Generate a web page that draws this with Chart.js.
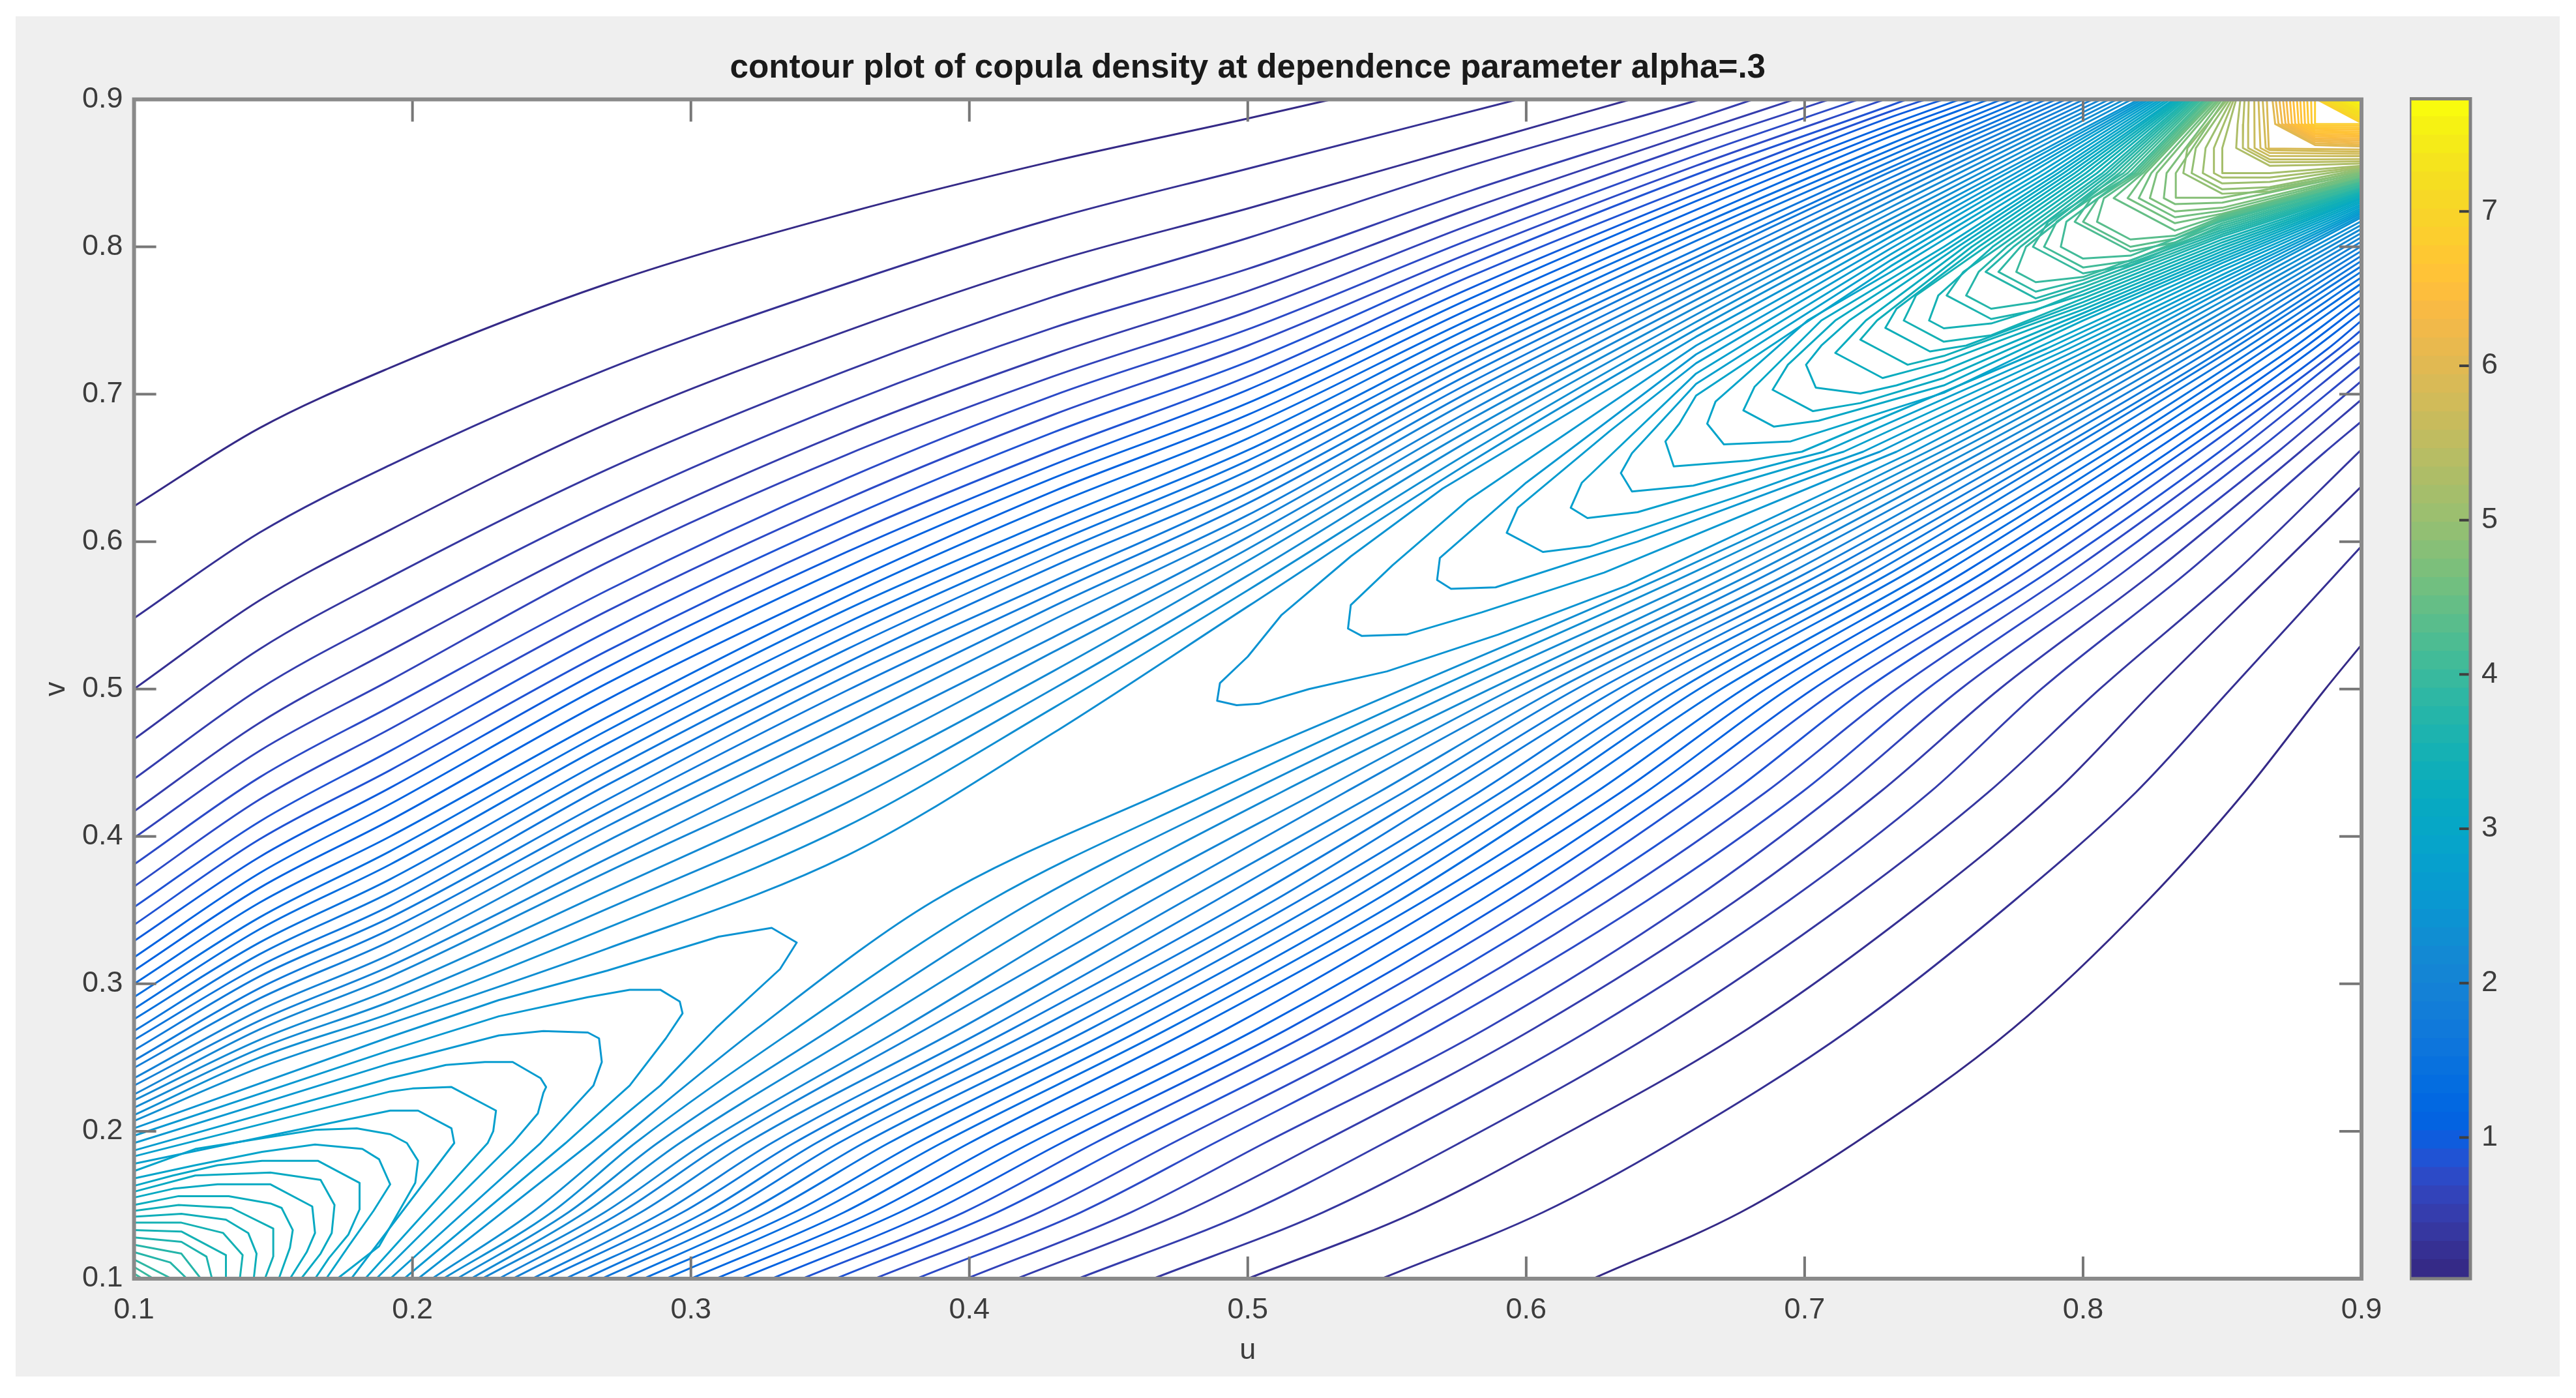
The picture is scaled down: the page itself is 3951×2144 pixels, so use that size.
<!DOCTYPE html>
<html>
<head>
<meta charset="utf-8">
<title>copula density contour</title>
<script src="https://cdn.jsdelivr.net/npm/chart.js@4/dist/chart.umd.min.js"></script>
<style>
html, body { margin: 0; background: #fff; overflow: hidden; }
#panel { position: absolute; left: 24px; top: 25px; width: 3902px; height: 2086px; background: #efefef; }
canvas { position: absolute; top: 0; }
#main { left: 0; }
#cbar { left: 3696px; }
</style>
</head>
<body>
<div id="panel"></div>
<canvas id="main" width="3951" height="2144"></canvas>
<canvas id="cbar" width="255" height="2144"></canvas>
<script>
const titleText = "contour plot of copula density at dependence parameter alpha=.3";
const uTicks = [0.1, 0.2, 0.3, 0.4, 0.5, 0.6, 0.7, 0.8, 0.9];
const vTicks = [0.1, 0.2, 0.3, 0.4, 0.5, 0.6, 0.7, 0.8, 0.9];
const barTicks = [1, 2, 3, 4, 5, 6, 7];
const barMin = 0.085;
const barMax = 7.73;

const parula = ["#352a87","#363093","#3637a0","#353dad","#3243ba","#2c4ac7","#2053d4","#0f5cdd","#0363e1","#0268e1","#046de0","#0871de","#0d75dc","#1079da","#127dd8","#1481d6","#1485d4","#1389d3","#108ed2","#0c93d2","#0998d1","#079ccf","#06a0cd","#06a4ca","#06a7c6","#07a9c2","#0aacbe","#0faeb9","#15b1b4","#1db3af","#25b5a9","#2eb7a4","#38b99e","#42bb98","#4dbc92","#59bd8c","#65be86","#71bf80","#7cbf7b","#87bf77","#92bf73","#9cbf6f","#a5be6b","#aebd67","#b7bd64","#c0bc60","#c8bb5c","#d1bb59","#d9ba56","#e1b952","#e9b94e","#f1b94a","#f8ba44","#fdbe3d","#ffc337","#fec832","#fcce2e","#f9d32a","#f7d826","#f5de21","#f5e41d","#f5eb18","#f6f213","#f9fb0e"];

// contour levels, outermost first
const levelsOuter = [0.17,0.24,0.32,0.39,0.47,0.54,0.62,0.69,0.77,0.84,0.92,0.99,1.07,1.14,1.22,1.29,1.37,1.44,1.52,1.59,1.67,1.74,1.82,1.89,1.97,2.04,2.12,2.19,2.27,2.34];
const levelsLow = [2.42,2.49,2.57,2.64,2.72,2.79,2.87,2.94,3.02,3.09,3.17,3.24,3.32,3.39,3.47,3.54,3.62,3.69,3.77,3.84,3.92,3.99];
const levelsHigh = [2.42,2.49,2.57,2.64,2.72,2.79,2.87,2.94,3.02,3.09,3.17,3.24,3.32,3.39,3.47,3.54,3.62,3.69,3.77,3.84,3.92,3.99,4.07,4.14,4.22,4.29,4.37,4.44,4.52,4.59,4.67,4.74,4.82,4.89,4.97,5.04,5.12,5.19,5.3,5.4,5.5,5.6,5.7,5.8,5.9,6.05,6.2,6.35,6.5,6.6,6.7,6.8,6.95,7.05,7.15,7.25,7.35,7.42,7.49,7.56,7.63,7.7];
const levelsTop = [6.12,6.27,6.42,6.55,6.65,6.75,7,7.1,7.2,7.3,7.38,7.45,7.52,7.6];

// all lines below are flat u,v pairs in thousandths
const upperLeft = [
[100,624,145,677,192,718,270,775,356,823,430,858,500,887,530,900],
[100,548,145,606,192,652,270,717,356,775,430,819,500,853,597,900],
[100,500,145,560,192,608,270,680,356,743,430,790,500,826,580,869,637.5,900],
[100,466,145,527,192,576,270,649,356,716,430,766,500,806,580,855,662.5,900],
[100,439,145,500,192,549,270,624,356,694,430,745,500,785,580,838,661,887,681.6,900],
[100,417,145,477,192,526,270,603,356,675,430,727,500,770,580,826,661,878,696.4,900],
[100,399,145,458,192,506,270,586,356,659,430,712,500,756,580,815,661,870,709,900],
[100,381,145,440,192,488,270,567,356,643,430,699,500,744,580,805,661,862,719.5,900],
[100,366,145,425,192,473,270,553,356,629,430,686,500,733,580,796,661,855,728.8,900],
[100,352,145,410,192,458,270,539,356,616,430,674,500,722,580,788,661,849,731,896,736.8,900],
[100,340,145,398,192,445,270,526,356,604,430,662,500,712,580,780,661,842,731,892,743.6,900],
[100,329,145,386,192,433,270,515,356,593,430,652,500,703,580,772,661,836,731,888,750,900],
[100,318,145,375,192,422,270,504,356,583,430,643,500,694,580,765,661,831,731,883,755.8,900],
[100,309,145,365,192,411,270,493,356,572,430,634,500,686,580,758,661,825,731,879,761.2,900],
[100,300,145,355,192,400,270,481,356,563,430,625,500,678,580,751,661,819,731,875,766.2,900],
[100,291,145,345,192,390,270,472,356,554,430,615,500,670,580,745,661,814,731,870,770.8,900],
[100,283,145,337,192,381,270,463,356,545,430,607,500,662,580,738,661,809,731,866,775.2,900],
[100,276,145,328,192,371,270,453,356,536,430,599,500,655,580,732,661,804,731,862,779.3,900],
[100,268,145,320,192,362,270,444,356,527,430,591,500,648,580,726,661,798,731,858,783.2,900],
[100,262,145,312,192,353,270,435,356,518,430,583,500,640,580,720,661,793,731,854,786.9,900],
[100,255,145,305,192,345,270,425,356,509,430,573,500,633,580,714,661,789,731,851,790.5,900],
[100,248,145,297,192,337,270,416,356,499,430,565,500,626,580,708,661,784,731,847,793.9,900],
[100,243,145,290,192,329,270,407,356,488,430,556,500,618,580,702,661,779,731,843,797.2,900],
[100,236,145,282,192,320,270,397,356,477,430,547,500,611,580,696,661,774,731,839,800.4,900],
[100,231,145,275,192,312,270,385,356,465,430,535,500,603,580,689,661,769,731,835,803.5,900],
[100,225,145,269,192,305,270,376,356,452,430,525,500,595,580,683,661,764,731,831,806.5,900],
[100,221,145,262,192,296,270,363,356,438,430,512,500,587,580,676,661,759,731,827,809.4,900],
[100,216,145,256,192,288,270,351,356,423,430,500,500,577,580,669,661,754,731,823,812.2,900],
[100,211,145,250,192,280,270,338,356,407,430,487,500,567,580,661,661,749,731,819,814.9,900],
[100,207,145,243,192,273,270,324,356,387,430,470,500,556,580,654,661,744,731,815,817.5,900]
];
const lowerRight = [
[624,100,677,145,718,192,775,270,823,356,858,430,887,500,900,530],
[548,100,606,145,652,192,717,270,775,356,819,430,853,500,900,597],
[500,100,560,145,608,192,680,270,743,356,790,430,826,500,869,580,900,637.5],
[466,100,527,145,576,192,649,270,716,356,766,430,806,500,855,580,900,662.5],
[439,100,500,145,549,192,624,270,694,356,745,430,785,500,838,580,887,661,900,681.6],
[417,100,477,145,526,192,603,270,675,356,727,430,770,500,826,580,878,661,900,696.4],
[399,100,458,145,506,192,586,270,659,356,712,430,756,500,815,580,870,661,900,709],
[381,100,440,145,488,192,567,270,643,356,699,430,744,500,805,580,862,661,900,719.5],
[366,100,425,145,473,192,553,270,629,356,686,430,733,500,796,580,855,661,900,728.8],
[352,100,410,145,458,192,539,270,616,356,674,430,722,500,788,580,849,661,896,731,900,736.8],
[340,100,398,145,445,192,526,270,604,356,662,430,712,500,780,580,842,661,892,731,900,743.6],
[329,100,386,145,433,192,515,270,593,356,652,430,703,500,772,580,836,661,888,731,900,750],
[318,100,375,145,422,192,504,270,583,356,643,430,694,500,765,580,831,661,883,731,900,755.8],
[309,100,365,145,411,192,493,270,572,356,634,430,686,500,758,580,825,661,879,731,900,761.2],
[300,100,355,145,400,192,481,270,563,356,625,430,678,500,751,580,819,661,875,731,900,766.2],
[291,100,345,145,390,192,472,270,554,356,615,430,670,500,745,580,814,661,870,731,900,770.8],
[283,100,337,145,381,192,463,270,545,356,607,430,662,500,738,580,809,661,866,731,900,775.2],
[276,100,328,145,371,192,453,270,536,356,599,430,655,500,732,580,804,661,862,731,900,779.3],
[268,100,320,145,362,192,444,270,527,356,591,430,648,500,726,580,798,661,858,731,900,783.2],
[262,100,312,145,353,192,435,270,518,356,583,430,640,500,720,580,793,661,854,731,900,786.9],
[255,100,305,145,345,192,425,270,509,356,573,430,633,500,714,580,789,661,851,731,900,790.5],
[248,100,297,145,337,192,416,270,499,356,565,430,626,500,708,580,784,661,847,731,900,793.9],
[243,100,290,145,329,192,407,270,488,356,556,430,618,500,702,580,779,661,843,731,900,797.2],
[236,100,282,145,320,192,397,270,477,356,547,430,611,500,696,580,774,661,839,731,900,800.4],
[231,100,275,145,312,192,385,270,465,356,535,430,603,500,689,580,769,661,835,731,900,803.5],
[225,100,269,145,305,192,376,270,452,356,525,430,595,500,683,580,764,661,831,731,900,806.5],
[221,100,262,145,296,192,363,270,438,356,512,430,587,500,676,580,759,661,827,731,900,809.4],
[216,100,256,145,288,192,351,270,423,356,500,430,577,500,669,580,754,661,823,731,900,812.2],
[211,100,250,145,280,192,338,270,407,356,487,430,567,500,661,580,749,661,819,731,900,814.9],
[207,100,243,145,273,192,324,270,387,356,470,430,556,500,654,580,744,661,815,731,900,817.5]
];
const lowPeak = [
[100,202,192,264,231,289,270,309,310,332,329,338,338,328,332,310,309,270,289,231,264,192,202,100],
[100,197,192,255,231,278,263,291,278,296,289,296,296,288,297,280,291,263,278,231,255,192,197,100],
[100,192,192,246,231,265,247,268,263,267,267,263,268,247,265,231,246,192,192,100],
[100,187,192,236,212,245,226,247,236,247,246,236,248,230,247,226,245,212,236,192,187,100],
[100,183,192,227,200,229,214,230,230,214,229,200,227,192,183,100],
[100,178,192,214,202,214,214,202,215,192,178,100],
[100,173,122,188,165,201,180,202,192,198,198,192,202,180,201,165,188,122,173,100],
[100,168,122,177,146,186,165,191,182,188,188,181,192,164,186,146,177,122,169,100],
[100,163,114,170,130,177,146,180,166,180,181,165,181,147,177,130,170,114,165,100],
[100,159,122,170,149,172,167,167,172,150,171,131,167,117,160,100],
[100,155,114,161,130,164,149,164,164,149,165,131,162,118,156,100],
[100,150,116,156,134,156,149,151,153,148,157,133,156,121,152,100],
[100,146,116,150,135,148,150,134,150,115,147,100],
[100,142,117,144,133,140,141,131,144,117,143,100],
[100,138,117,138,132,131,139,116,138,100],
[100,133,117,132,133,116,133,100],
[100,128,117,125,126,115,128,100],
[100,123,117,117,124,100],
[100,118,113,111,119,100],
[100,113,113.5,100],
[100,108,107,100],
[100,103.5,103,100]
];
const highPeak = [
[820,900,770,850,731,811,661,739,570,636,537,590,512,550,500,522,490,504,489,492,496,489,504,490,522,500,550,512,590,537,636,570,739,661,811,731,850,770,900,820],
[821.3,900,772.7,850,731,807,661,733,579,628,552,584,537,557,536,541,541,536,557,537,584,552,628,579,733,661,807,731,850,772.7,900,821.3],
[822.6,900,775.8,850,731,803,661,727,600,640,569,589,568,574,573,568,589,569,640,600,727,661,803,731,850,775.8,900,822.6],
[823.8,900,778.5,850,731,799,661,721,630,675,597,623,593,606,606,593,623,597,675,630,721,661,799,731,850,778.5,900,823.8],
[825.1,900,781,850,731,795,661,714,620,640,616,623,622,616,640,620,714,661,795,731,850,781,900,825.1],
[826.3,900,784,850,731,791,661,707,638,660,634,646.5,638,634,660,638,707,661,791,731,850,784,900,826.3],
[827.6,900,786.5,850,731,787,661,699,655,680,650,668,653,651,680,655,699,661,787,731,850,786.5,900,827.6],
[828.8,900,789,850,731,783,701,750,668,695,665,680,671,666,695,668,750,701,783,731,850,789,900,828.8],
[830.1,900,791,850,750,800,706,750,682,705,678,689,689,678,705,682,750,706,800,750,850,791,900,830.1],
[831.3,900,793,850,752.5,800,711,750,694,720,688.5,703,703,688.5,720,694,750,711,800,752.5,850,793,900,831.3],
[832.6,900,795,850,755,800,716,750,706,733,700.5,720,704,704.5,720,700.5,733,706,750,716,800,755,850,795,900,832.6],
[833.4,900,797,850,757.5,800,722,750,717,740,711,728,728,711,740,717,750,722,800,757.5,850,797,900,833.4],
[834.3,900,799,850,760,800,726,750,720,737,729,728,737,720,750,726,800,760,850,799,900,834.3],
[835.1,900,801,850,762.5,800,733,758,729,745,745,729,758,733,800,762.5,850,801,900,835.1],
[835.9,900,803,850,765,800,740,767,735.6,750,750,735.6,767,740,800,765,850,803,900,835.9],
[836.7,900,805,850,767.5,800,748,767,744.7,750,750,744.7,767,748,800,767.5,850,805,900,836.7],
[837.6,900,807,850,770,800,757,783,751,767,767,751,783,757,800,770,850,807,900,837.6],
[838.4,900,808.5,850,772.5,800,762.5,783,758,767,767,758,783,762.5,800,772.5,850,808.5,900,838.4],
[839.2,900,810,850,775,800,765,783,783,765,800,775,850,810,900,839.2],
[840.1,900,811.5,850,777.5,800,769.6,783,783,769.6,800,777.5,850,811.5,900,840.1],
[840.9,900,813,850,779.5,800,776,783,783,776,800,779.5,850,813,900,840.9],
[841.7,900,814.5,850,787.5,817,782,800,800,782,817,787.5,850,814.5,900,841.7],
[842.5,900,816,850,790.5,817,786,800,800,786,817,790.5,850,816,900,842.5],
[843.4,900,817.5,850,794,817,792,800,800,792,817,794,850,817.5,900,843.4],
[844.2,900,818.5,850,803,833,797,817,817,797,833,803,850,818.5,900,844.2],
[845,900,819.5,850,805.5,833,800,817,817,800,833,805.5,850,819.5,900,845],
[845.9,900,820.5,850,807.5,833,805,817,817,805,833,807.5,850,820.5,900,845.9],
[846.7,900,821.5,850,811,833,833,811,850,821.5,900,846.7],
[847.5,900,822.5,850,816,833,833,816,850,822.5,900,847.5],
[848.4,900,824.5,850,820,833,833,820,850,824.5,900,848.4],
[849.2,900,826.5,850,824,833,833,824,850,826.5,900,849.2],
[850,900,830,850,829,833,833,829,850,830,900,850],
[850.9,900,833.3,850,833.3,833.3,850,833.3,900,850.9],
[851.8,900,837.5,867,836,850,850,836,867,837.5,900,851.8],
[852.6,900,840.5,867,839,850,850,839,867,840.5,900,852.6],
[853.4,900,844,867,843,850,850,843,867,844,900,853.4],
[854.2,900,847,867,847,850,850,847,867,847,900,854.2],
[855,900,850,867,850,850,867,850,900,855],
[856.5,900,855.5,883,855,867,867,855,883,855.5,900,856.5],
[858,900,857.5,883,857.4,867,867,857.4,883,857.5,900,858],
[859.5,900,859.3,883,859.3,867,867,859.3,883,859.3,900,859.5],
[861.5,900,861.6,867,867,861.6,900,861.5],
[863,900,863.7,867,867,863.7,900,863],
[864.5,900,865.6,867,867,865.6,900,864.5],
[866,900,866.7,866.7,900,866],
[868,900,869,883.3,883.3,869,900,868],
[870.5,900,871.5,883.3,883.3,871.5,900,870.5],
[873,900,873.8,883.3,883.3,873.8,900,873],
[875.5,900,876.2,883.3,883.3,876.2,900,875.5],
[878,900,878.5,883.3,883.3,878.5,900,878],
[880.5,900,880.9,883.3,883.3,880.9,900,880.5],
[883.3,900,883.3,883.3,900,883.3],
[884,900,900,884],
[886,900,900,886],
[888,900,900,888],
[890,900,900,890],
[892,900,900,892],
[893.5,900,900,893.5],
[895,900,900,895],
[896.5,900,900,896.5],
[898,900,900,898],
[899,900,900,899]
];
// the tightly packed lines next to the top right corner
const highPeakTop = [
[869.2,900,870.2,883.3,883.3,870.2,900,869.2],
[871.8,900,872.7,883.3,883.3,872.7,900,871.8],
[874.3,900,875,883.3,883.3,875,900,874.3],
[876.8,900,877.4,883.3,883.3,877.4,900,876.8],
[879.3,900,879.7,883.3,883.3,879.7,900,879.3],
[881.9,900,882.1,883.3,883.3,882.1,900,881.9],
[885,900,900,885],
[887,900,900,887],
[889,900,900,889],
[891,900,900,891],
[892.8,900,900,892.8],
[894.2,900,900,894.2],
[895.8,900,900,895.8],
[897.2,900,900,897.2]
];

const tickFont = { family: "'Liberation Sans', Arial, sans-serif", size: 45 };
const tickColor = "#3c3c3c";

function colorFor(level) {
    const i = Math.floor((level - barMin) / (barMax - barMin) * parula.length);
    return parula[Math.max(0, Math.min(parula.length - 1, i))];
}

function toPoints(flat) {
    const pts = [];
    for (let i = 0; i < flat.length; i += 2) pts.push({ x: flat[i] / 1000, y: flat[i + 1] / 1000 });
    return pts;
}

function family(lines, levels, smooth) {
    return lines.map((line, i) => ({
        data: toPoints(line),
        showLine: true,
        pointRadius: 0,
        borderWidth: 3,
        borderColor: colorFor(levels[i]),
        cubicInterpolationMode: smooth ? "monotone" : "default",
        tension: 0,
        borderJoinStyle: "round"
    }));
}

// MATLAB style box: axis lines all round and ticks pointing inwards
const axesBox = {
    id: "axesBox",
    beforeDraw(chart) {
        const a = chart.chartArea;
        chart.ctx.fillStyle = "#fff";
        chart.ctx.fillRect(a.left, a.top, a.right - a.left, a.bottom - a.top);
    },
    afterDraw(chart) {
        const { ctx, chartArea: a, scales } = chart;
        ctx.save();
        ctx.strokeStyle = "#777";
        ctx.lineWidth = 4;
        ctx.beginPath();
        uTicks.forEach(t => {
            const x = scales.x.getPixelForValue(t);
            ctx.moveTo(x, a.top); ctx.lineTo(x, a.top + 34);
            ctx.moveTo(x, a.bottom); ctx.lineTo(x, a.bottom - 34);
        });
        vTicks.forEach(t => {
            const y = scales.y.getPixelForValue(t);
            ctx.moveTo(a.left, y); ctx.lineTo(a.left + 34, y);
            ctx.moveTo(a.right, y); ctx.lineTo(a.right - 34, y);
        });
        ctx.stroke();
        ctx.strokeStyle = "#8a8a8a";
        ctx.lineWidth = 6;
        ctx.strokeRect(a.left, a.top, a.right - a.left, a.bottom - a.top);
        ctx.restore();
    }
};

const barBox = {
    id: "barBox",
    afterDraw(chart) {
        const { ctx, chartArea: a, scales } = chart;
        ctx.save();
        ctx.strokeStyle = "#3f3f3f";
        ctx.lineWidth = 4;
        ctx.beginPath();
        barTicks.forEach(t => {
            const y = scales.y.getPixelForValue(t);
            ctx.moveTo(a.right, y); ctx.lineTo(a.right - 17, y);
        });
        ctx.stroke();
        ctx.strokeStyle = "#808080";
        ctx.lineWidth = 5;
        ctx.strokeRect(a.left, a.top, a.right - a.left, a.bottom - a.top);
        ctx.restore();
    }
};

new Chart(document.getElementById("main"), {
    type: "scatter",
    data: {
        datasets: [
            ...family(upperLeft, levelsOuter, true),
            ...family(lowerRight, levelsOuter, true),
            ...family(lowPeak, levelsLow, false),
            ...family(highPeak, levelsHigh, false),
            ...family(highPeakTop, levelsTop, false)
        ]
    },
    options: {
        responsive: false,
        animation: false,
        devicePixelRatio: 1,
        layout: { padding: { right: 329 } },
        plugins: {
            legend: { display: false },
            tooltip: { enabled: false },
            title: {
                display: true,
                text: titleText,
                fullSize: false,
                color: "#1a1a1a",
                font: { family: "'Liberation Sans', Arial, sans-serif", size: 51.2, weight: "bold" },
                padding: { top: 74.5, bottom: 16.5 }
            }
        },
        scales: {
            x: {
                min: 0.1,
                max: 0.9,
                grid: { display: false, drawTicks: false },
                border: { display: false },
                afterBuildTicks: s => { s.ticks = uTicks.map(value => ({ value })); },
                afterFit: s => { s.height = 183; s.paddingLeft = 0; s.paddingRight = 0; },
                ticks: { autoSkip: false, maxRotation: 0, padding: 22, color: tickColor, font: tickFont, callback: v => v.toFixed(1) },
                title: { display: true, text: "u", color: tickColor, font: tickFont, padding: { top: 0, bottom: 45 } }
            },
            y: {
                min: 0.1,
                max: 0.9,
                grid: { display: false, drawTicks: false },
                border: { display: false },
                afterBuildTicks: s => { s.ticks = vTicks.map(value => ({ value })); },
                afterFit: s => { s.width = 205.6; s.paddingTop = 0; s.paddingBottom = 0; },
                ticks: { autoSkip: false, padding: 17, color: tickColor, font: tickFont, callback: v => v.toFixed(1) },
                title: { display: true, text: "v", color: tickColor, font: tickFont, padding: { top: 60, bottom: 0 } }
            }
        }
    },
    plugins: [axesBox]
});

// colour bar: one floating bar per colormap band
const bandSize = (barMax - barMin) / parula.length;
new Chart(document.getElementById("cbar"), {
    type: "bar",
    data: {
        labels: [""],
        datasets: parula.map((c, i) => ({
            data: [[barMin + i * bandSize, barMin + (i + 1) * bandSize + 0.005]],
            backgroundColor: c,
            borderWidth: 0,
            barPercentage: 1,
            categoryPercentage: 1,
            grouped: false
        }))
    },
    options: {
        responsive: false,
        animation: false,
        devicePixelRatio: 1,
        layout: { padding: { top: 151.5, bottom: 183 } },
        plugins: { legend: { display: false }, tooltip: { enabled: false } },
        scales: {
            x: { display: false },
            y: {
                position: "right",
                min: barMin,
                max: barMax,
                grid: { display: false, drawTicks: false },
                border: { display: false },
                afterBuildTicks: s => { s.ticks = barTicks.map(value => ({ value })); },
                afterFit: s => { s.width = 162; s.paddingTop = 0; s.paddingBottom = 0; },
                ticks: { padding: 17, color: tickColor, font: tickFont, callback: v => String(v) }
            }
        }
    },
    plugins: [barBox]
});
</script>
</body>
</html>
